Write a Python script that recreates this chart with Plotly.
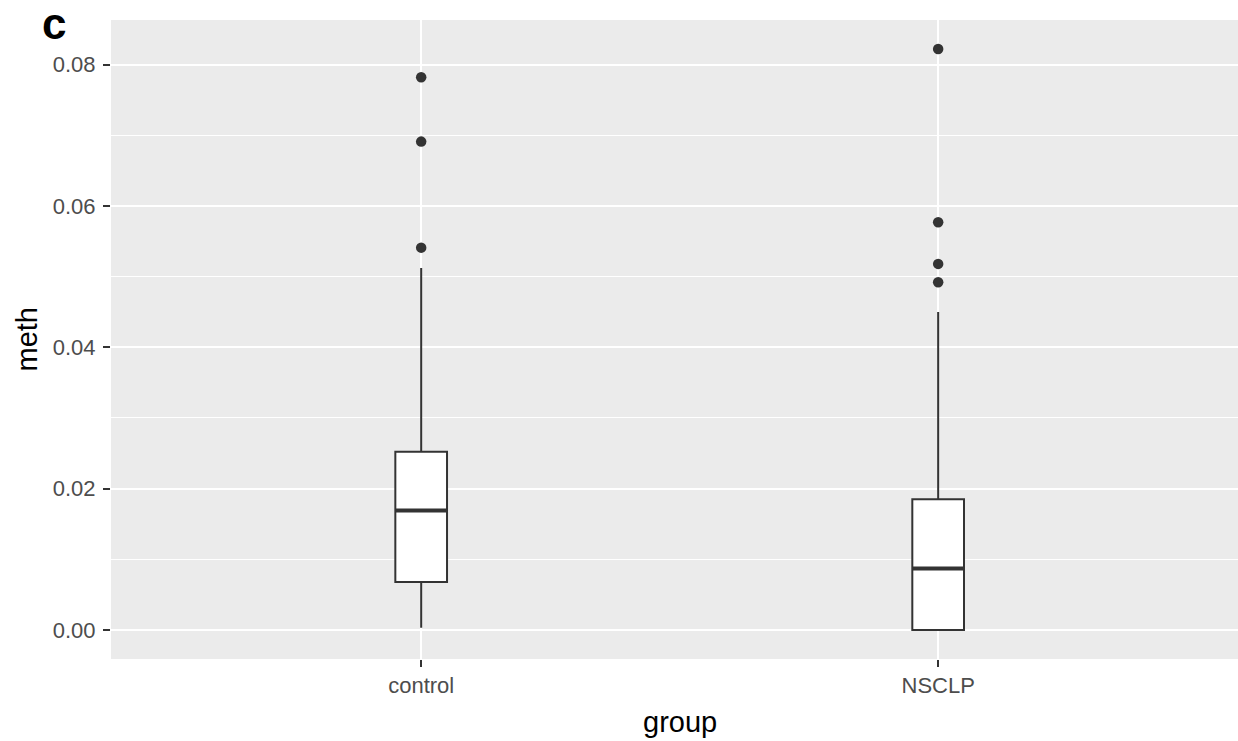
import plotly.graph_objects as go

# ---- data ----
groups = ["control", "NSCLP"]
q1 = [0.0068, 0.0000]
medians = [0.0169, 0.0087]
q3 = [0.0252, 0.0185]
lower_whisker = [0.0003, 0.0000]
upper_whisker = [0.0512, 0.0450]
outliers_control = [0.0782, 0.0691, 0.0541]
outliers_nsclp = [0.0822, 0.0577, 0.0518, 0.0492]
y_ticks = [0.00, 0.02, 0.04, 0.06, 0.08]
y_tick_labels = ["0.00", "0.02", "0.04", "0.06", "0.08"]

# ---- style ----
FONT = "Liberation Sans, Arial, sans-serif"
DARK = "#333333"
BOX_W = 0.1
W, H = 1238, 741
ML, MR, MT, MB = 111, 0, 20, 82

positions = list(range(len(groups)))
outliers = [outliers_control, outliers_nsclp]

fig = go.Figure()

for i, g in enumerate(groups):
    fig.add_trace(go.Box(
        x=[positions[i]], q1=[q1[i]], median=[medians[i]], q3=[q3[i]],
        lowerfence=[lower_whisker[i]], upperfence=[upper_whisker[i]],
        width=BOX_W, whiskerwidth=0, fillcolor="white",
        line=dict(color=DARK, width=2), boxpoints=False,
        name=g, showlegend=False, hoverinfo="skip",
    ))
    # thicker median line as in ggplot
    fig.add_trace(go.Scatter(
        x=[positions[i] - BOX_W / 2, positions[i] + BOX_W / 2],
        y=[medians[i], medians[i]], mode="lines",
        line=dict(color=DARK, width=4), showlegend=False, hoverinfo="skip",
    ))
    fig.add_trace(go.Scatter(
        x=[positions[i]] * len(outliers[i]), y=outliers[i], mode="markers",
        marker=dict(color=DARK, size=10.5), showlegend=False, hoverinfo="skip",
    ))

ymax = max(max(outliers_control), max(outliers_nsclp))
ymin = 0.0
pad = 0.05 * (ymax - ymin)

fig.update_layout(
    width=W, height=H,
    margin=dict(l=ML, r=MR, t=MT, b=MB, pad=0),
    paper_bgcolor="white", plot_bgcolor="#EBEBEB",
    font=dict(family=FONT, color="#4D4D4D", size=22),
    showlegend=False,
)
fig.update_xaxes(
    range=[-0.6, 1.58], tickmode="array", tickvals=positions, ticktext=groups,
    showgrid=True, gridcolor="white", gridwidth=2, zeroline=False,
    ticks="outside", ticklen=7, tickwidth=2, tickcolor=DARK,
    tickfont=dict(family=FONT, size=22, color="#4D4D4D"),
    showline=False,
)
fig.update_yaxes(
    range=[ymin - pad, ymax + pad], tickmode="array", tickvals=y_ticks,
    ticktext=y_tick_labels,
    showgrid=True, gridcolor="white", gridwidth=2, zeroline=False,
    ticks="outside", ticklen=7, tickwidth=2, tickcolor=DARK,
    ticklabelstandoff=3,
    tickfont=dict(family=FONT, size=22, color="#4D4D4D"),
    minor=dict(dtick=0.01, tick0=0, showgrid=True, gridcolor="white", gridwidth=1),
    showline=False,
)

plot_w = W - ML - MR
plot_h = H - MT - MB
fig.add_annotation(
    text="meth", xref="paper", yref="paper",
    x=(26 - ML) / plot_w, y=0.5, textangle=-90, showarrow=False,
    font=dict(family=FONT, size=29, color="black"),
    xanchor="center", yanchor="middle",
)
fig.add_annotation(
    text="group", xref="x", yref="paper",
    x=0.5, y=-(722 - (H - MB)) / plot_h, showarrow=False,
    font=dict(family=FONT, size=29, color="black"),
    xanchor="center", yanchor="middle",
)
fig.add_annotation(
    text="<b>c</b>", xref="paper", yref="paper",
    x=(54 - ML) / plot_w, y=1 + (MT - 24) / plot_h, showarrow=False,
    font=dict(family=FONT, size=44, color="black"),
    xanchor="center", yanchor="middle",
)

fig.write_html(
    "out.html",
    config={"displayModeBar": False},
    post_script="document.body.style.margin='0';document.body.style.overflow='hidden';",
)
